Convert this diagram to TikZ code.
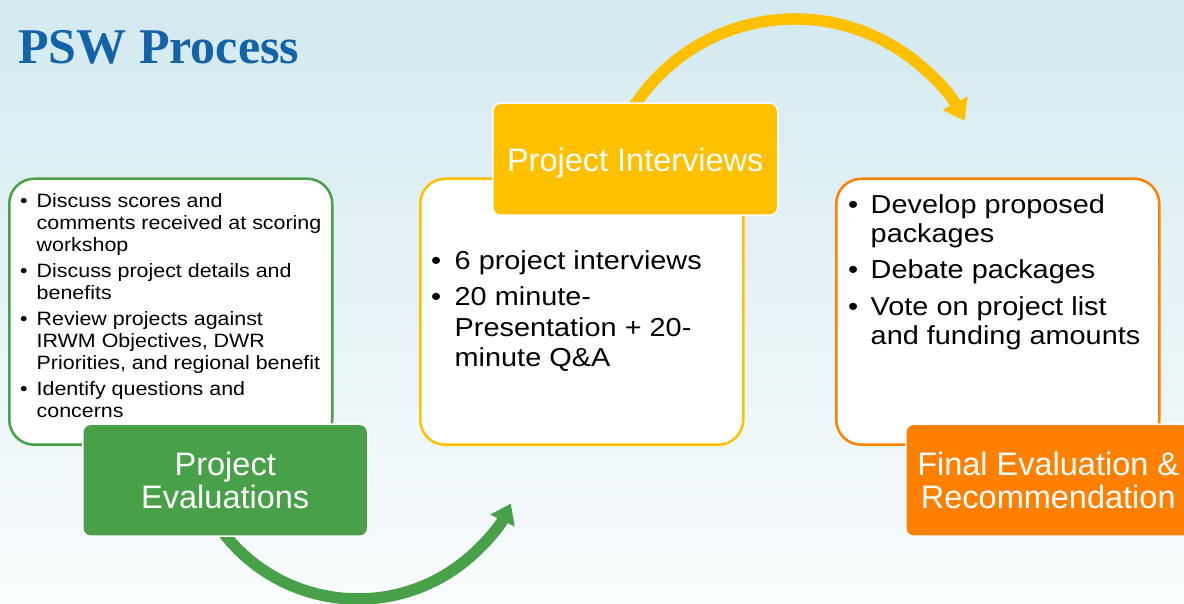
\documentclass[tikz,border=0pt]{standalone}
\usepackage{fontspec}
\setmainfont{Liberation Sans}
\newfontfamily\bulletfont{Liberation Sans}[FakeStretch=1.11]
\newfontfamily\titlefont{Liberation Serif}
\usetikzlibrary{arrows.meta}
\definecolor{bgtop}{RGB}{211,234,240}
\definecolor{bgbot}{RGB}{249,252,253}
\definecolor{pswgreen}{RGB}{72,160,72}
\definecolor{pswyellow}{RGB}{255,192,0}
\definecolor{psworange}{RGB}{255,128,0}
\definecolor{titleblue}{RGB}{20,98,168}
\newcommand{\bul}[2]{\par\noindent\hangindent=#1\hangafter=1\makebox[#1][l]{\textbullet}#2}
\begin{document}
\begin{tikzpicture}[x=1pt,y=1pt,
  panel/.style={draw=#1, line width=2.5pt, fill=white, rounded corners=25pt, anchor=south west, minimum width=323pt, minimum height=266pt},
  tag/.style={fill=#1, draw=white, line width=1.5pt, rounded corners=8pt, text=white, align=center, anchor=south west, minimum width=285pt, minimum height=112pt, font=\fontsize{32.5}{33.5}\selectfont},
  bullets/.style={anchor=base west, inner sep=0pt, text width=330pt, align=left, text=black},
  flow/.style={line width=11.5pt, draw=#1}
]
\clip (0,0) rectangle (1184,604);
\shade[top color=bgtop, bottom color=bgbot] (0,0) rectangle (1184,604);

% title
\node[anchor=base west, inner sep=0pt, text=titleblue, font=\titlefont\bfseries\fontsize{50}{60}\selectfont] (title) at (18,540.7) {PSW Process};

% arcs (drawn first so the tags hide their starts)
\coordinate (gc) at (358,175);
\coordinate (yc) at (795,393);
\draw[flow=pswgreen, -{Triangle[length=19pt,width=26pt]}] (gc) ++(218:170) arc[start angle=218, end angle=334, radius=170];
\draw[flow=pswyellow, -{Triangle[length=20pt,width=27pt]}] (yc) ++(147:192) arc[start angle=147, end angle=28, radius=192];

% panels
\node[panel=pswgreen] (evalpanel) at (8,158) {};
\node[panel=pswyellow] (intpanel) at (419,158) {};
\node[panel=psworange] (finalpanel) at (835,158) {};

% tags
\node[tag=pswgreen] (evaltag) at (82,67) {Project\\Evaluations};
\node[tag=pswyellow, text depth=0pt] (inttag) at (492,388) {Project Interviews};
\node[tag=psworange] (finaltag) at (905,67) {Final Evaluation \&\\Recommendation};

% bullet texts
\node[bullets] (evaltext) at (20,422.3) {\bulletfont\fontsize{19.3}{21.7}\selectfont\spaceskip=0.31em plus 0.1em minus 0.05em\setlength{\parskip}{4.6pt}%
\bul{16.5pt}{Discuss scores and\newline comments received at scoring\newline workshop}%
\bul{16.5pt}{Discuss project details and\newline benefits}%
\bul{16.5pt}{Review projects against\newline IRWM Objectives, DWR\newline Priorities, and regional benefit}%
\bul{16.5pt}{Identify questions and\newline concerns}\par};

\node[bullets] (inttext) at (431,370) {\bulletfont\fontsize{26}{30.3}\selectfont\spaceskip=0.31em plus 0.1em minus 0.05em\setlength{\parskip}{5.7pt}%
\bul{23.5pt}{6 project interviews}%
\bul{23.5pt}{20 minute-\newline Presentation + 20-\newline minute Q\&A}\par};

\node[bullets] (finaltext) at (848,427.2) {\bulletfont\fontsize{26}{29}\selectfont\spaceskip=0.31em plus 0.1em minus 0.05em\setlength{\parskip}{7.5pt}%
\bul{22.5pt}{Develop proposed\newline packages}%
\bul{22.5pt}{Debate packages}%
\bul{22.5pt}{Vote on project list\newline and funding amounts}\par};
\end{tikzpicture}
\end{document}
